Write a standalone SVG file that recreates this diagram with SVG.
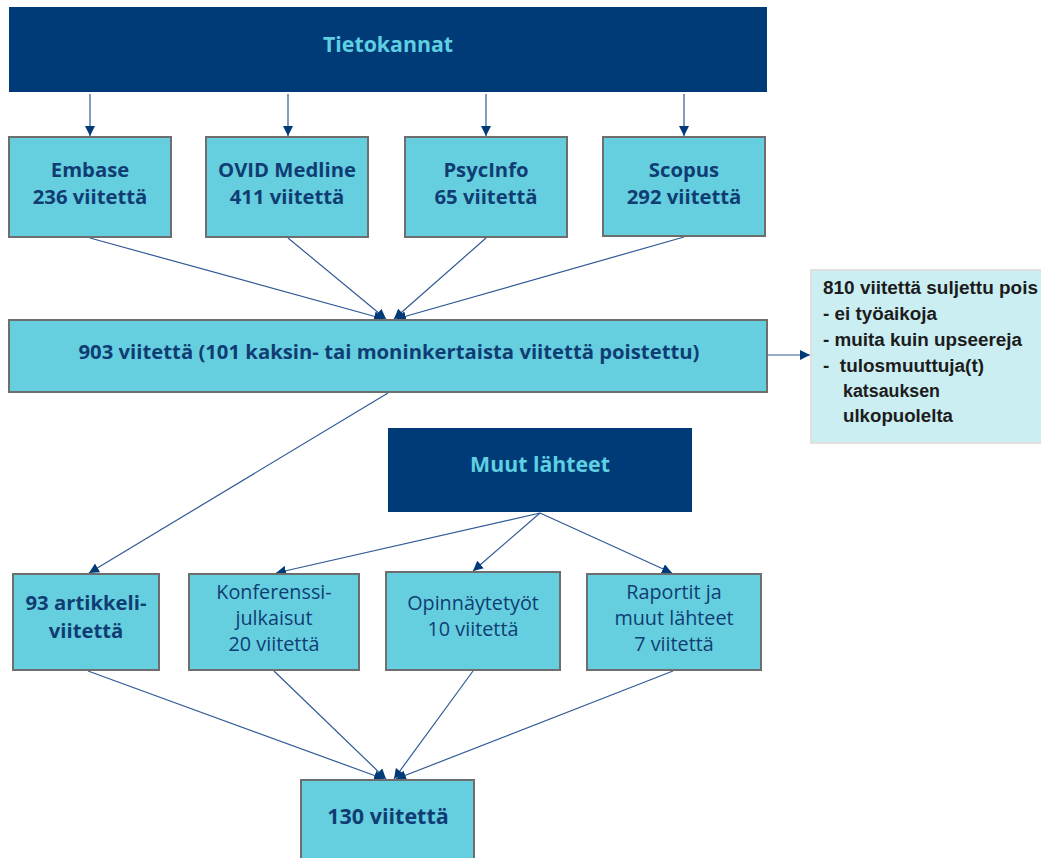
<svg xmlns="http://www.w3.org/2000/svg" width="1041" height="858" viewBox="0 0 1041 858">
<style>
.hdr{fill:#003b78;}
.node{fill:#66cfdf;stroke:#6e6e6e;stroke-width:2;}
.excl{fill:#cbeef2;stroke:#e0e0e0;stroke-width:2;}
.ht{font-family:"Open Sans","Noto Sans",sans-serif;font-weight:bold;font-size:21.3px;fill:#5fd0e2;text-anchor:middle;}
.tb{font-family:"Open Sans","Noto Sans",sans-serif;font-weight:bold;font-size:20.3px;fill:#0f3d73;text-anchor:middle;}
.tr{font-family:"Open Sans","Noto Sans",sans-serif;font-size:19.8px;fill:#0f3d73;text-anchor:middle;}
.te{font-family:"Liberation Sans",Arial,sans-serif;font-weight:bold;font-size:17.5px;fill:#1c1c1c;white-space:pre;}
.c{stroke:#2f5a96;stroke-width:1.2;fill:none;marker-end:url(#ah);}
</style>
<defs>
<marker id="ah" viewBox="0 0 10 10" refX="10" refY="5" markerWidth="10" markerHeight="10" markerUnits="userSpaceOnUse" orient="auto">
<path d="M0,0 L10,5 L0,10 z" fill="#003b78"/>
</marker>
</defs>
<g id="connectors">
<line class="c" x1="90" y1="94" x2="90" y2="136"/>
<line class="c" x1="288" y1="94" x2="288" y2="136"/>
<line class="c" x1="486" y1="94" x2="486" y2="136"/>
<line class="c" x1="684" y1="94" x2="684" y2="136"/>
<line class="c" x1="90" y1="238" x2="384" y2="319"/>
<line class="c" x1="288" y1="238" x2="386" y2="319"/>
<line class="c" x1="486" y1="238" x2="394" y2="319"/>
<line class="c" x1="684" y1="237" x2="396" y2="319"/>
<line class="c" x1="768" y1="355" x2="810" y2="355"/>
<line class="c" x1="388" y1="393" x2="89" y2="573"/>
<line class="c" x1="540" y1="513" x2="276" y2="573"/>
<line class="c" x1="540" y1="513" x2="473" y2="571"/>
<line class="c" x1="540" y1="513" x2="672" y2="573"/>
<line class="c" x1="88" y1="671" x2="384" y2="779"/>
<line class="c" x1="274" y1="671" x2="386" y2="779"/>
<line class="c" x1="473" y1="671" x2="394" y2="779"/>
<line class="c" x1="673" y1="671" x2="396" y2="779"/>
</g>
<g id="tietokannat"><rect class="hdr" x="9" y="7" width="758" height="85"/><text class="ht" x="388" y="52">Tietokannat</text></g>
<g id="embase"><rect class="node" x="9" y="137" width="162" height="100"/><text class="tb" x="90" y="177">Embase</text><text class="tb" x="90" y="204">236 viitettä</text></g>
<g id="ovid"><rect class="node" x="206" y="137" width="162" height="100"/><text class="tb" x="287" y="177">OVID Medline</text><text class="tb" x="287" y="204">411 viitettä</text></g>
<g id="psycinfo"><rect class="node" x="405" y="137" width="162" height="100"/><text class="tb" x="486" y="177">PsycInfo</text><text class="tb" x="486" y="204">65 viitettä</text></g>
<g id="scopus"><rect class="node" x="603" y="137" width="162" height="99"/><text class="tb" x="684" y="177">Scopus</text><text class="tb" x="684" y="204">292 viitettä</text></g>
<g id="n903"><rect class="node" x="9" y="320" width="758" height="72"/><text class="tb" x="389" y="359">903 viitettä (101 kaksin- tai moninkertaista viitettä poistettu)</text></g>
<g id="excluded"><rect class="excl" x="811" y="270" width="232" height="173"/>
<text class="te" x="823" y="294" textLength="215" lengthAdjust="spacingAndGlyphs">810 viitettä suljettu pois</text>
<text class="te" x="823" y="320" textLength="114" lengthAdjust="spacingAndGlyphs">- ei työaikoja</text>
<text class="te" x="823" y="346" textLength="199" lengthAdjust="spacingAndGlyphs">- muita kuin upseereja</text>
<text class="te" x="823" y="372" textLength="161" lengthAdjust="spacingAndGlyphs">-  tulosmuuttuja(t)</text>
<text class="te" x="843" y="397" textLength="97" lengthAdjust="spacingAndGlyphs">katsauksen</text>
<text class="te" x="843" y="422" textLength="110" lengthAdjust="spacingAndGlyphs">ulkopuolelta</text>
</g>
<g id="muut"><rect class="hdr" x="388" y="428" width="304" height="84"/><text class="ht" x="540" y="472">Muut lähteet</text></g>
<g id="artikkeli"><rect class="node" x="13" y="574" width="146" height="96"/><text class="tb" x="86" y="610">93 artikkeli-</text><text class="tb" x="86" y="638">viitettä</text></g>
<g id="konferenssi"><rect class="node" x="189" y="574" width="170" height="96"/><text class="tr" x="274" y="599">Konferenssi-</text><text class="tr" x="274" y="625">julkaisut</text><text class="tr" x="274" y="651">20 viitettä</text></g>
<g id="opinnaytetyot"><rect class="node" x="386" y="572" width="174" height="98"/><text class="tr" x="473" y="610">Opinnäytetyöt</text><text class="tr" x="473" y="636">10 viitettä</text></g>
<g id="raportit"><rect class="node" x="587" y="574" width="174" height="96"/><text class="tr" x="674" y="599">Raportit ja</text><text class="tr" x="674" y="625">muut lähteet</text><text class="tr" x="674" y="651">7 viitettä</text></g>
<g id="n130"><rect class="node" x="301" y="780" width="173" height="80"/><text class="tb" x="388" y="824" style="font-size:21.5px">130 viitettä</text></g>
</svg>
